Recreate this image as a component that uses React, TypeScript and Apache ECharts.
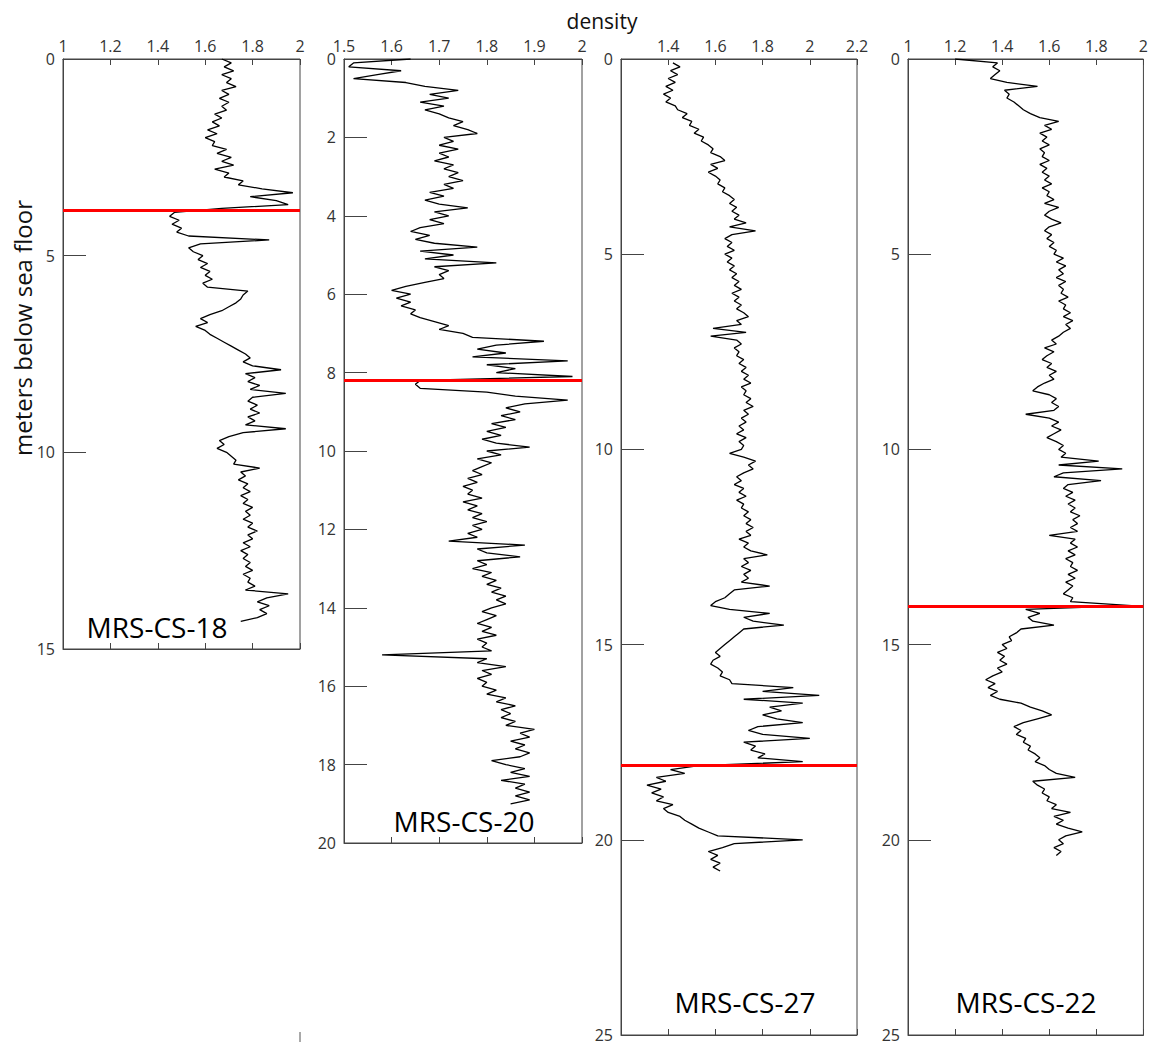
import React, { useEffect, useRef } from "react";
import * as echarts from "echarts";

// Sampling step of the digitised density logs (m)
const STEP = 0.1;

// Core names
const CORE_NAMES = ["MRS-CS-18", "MRS-CS-20", "MRS-CS-27", "MRS-CS-22"];

// Depth of the first sample of each core (m below sea floor)
const CORE_TOPS = [0.0, 0.0, 0.1, 0.0];

// Red boundary depths (m)
const RED_LINES = [3.84, 8.19, 18.08, 14.03];

// Density (g/cm3) every 0.1 m, MRS-CS-18 (0.0 - 14.3 m)
const cs18 = [
  1.67, 1.71, 1.68, 1.72, 1.67, 1.71, 1.69, 1.73, 1.67, 1.70,
  1.66, 1.70, 1.67, 1.69, 1.64, 1.67, 1.63, 1.66, 1.61, 1.65,
  1.60, 1.64, 1.63, 1.69, 1.65, 1.71, 1.67, 1.72, 1.64, 1.70,
  1.68, 1.76, 1.74, 1.84, 1.97, 1.79, 1.90, 1.95, 1.67, 1.47,
  1.45, 1.49, 1.46, 1.50, 1.48, 1.53, 1.87, 1.58, 1.53, 1.55,
  1.59, 1.57, 1.61, 1.58, 1.62, 1.60, 1.63, 1.59, 1.61, 1.78,
  1.76, 1.75, 1.73, 1.70, 1.67, 1.62, 1.58, 1.61, 1.56, 1.60,
  1.62, 1.65, 1.68, 1.71, 1.74, 1.77, 1.79, 1.76, 1.80, 1.92,
  1.77, 1.81, 1.78, 1.83, 1.79, 1.94, 1.80, 1.78, 1.82, 1.79,
  1.83, 1.78, 1.81, 1.77, 1.94, 1.76, 1.70, 1.66, 1.68, 1.65,
  1.69, 1.71, 1.73, 1.72, 1.83, 1.75, 1.77, 1.74, 1.78, 1.76,
  1.79, 1.75, 1.78, 1.76, 1.80, 1.77, 1.79, 1.76, 1.80, 1.78,
  1.82, 1.78, 1.80, 1.76, 1.79, 1.75, 1.78, 1.76, 1.79, 1.77,
  1.80, 1.76, 1.79, 1.78, 1.81, 1.77, 1.95, 1.86, 1.82, 1.87,
  1.83, 1.86, 1.82, 1.75,
];

// MRS-CS-20 (0.0 - 19.0 m)
const cs20 = [
  1.64, 1.52, 1.51, 1.62, 1.57, 1.52, 1.63, 1.67, 1.74, 1.68,
  1.72, 1.66, 1.71, 1.67, 1.70, 1.72, 1.75, 1.73, 1.76, 1.78,
  1.71, 1.73, 1.70, 1.74, 1.70, 1.72, 1.69, 1.73, 1.71, 1.74,
  1.72, 1.75, 1.71, 1.73, 1.68, 1.71, 1.67, 1.70, 1.76, 1.69,
  1.72, 1.68, 1.71, 1.66, 1.64, 1.68, 1.65, 1.69, 1.78, 1.66,
  1.73, 1.67, 1.82, 1.69, 1.72, 1.70, 1.71, 1.67, 1.63, 1.60,
  1.64, 1.61, 1.64, 1.62, 1.65, 1.64, 1.66, 1.69, 1.72, 1.70,
  1.75, 1.77, 1.92, 1.82, 1.78, 1.84, 1.77, 1.97, 1.80, 1.86,
  1.82, 1.98, 1.66, 1.65, 1.66, 1.80, 1.86, 1.97, 1.88, 1.84,
  1.87, 1.83, 1.86, 1.81, 1.84, 1.80, 1.83, 1.79, 1.82, 1.89,
  1.80, 1.83, 1.78, 1.81, 1.79, 1.77, 1.79, 1.76, 1.78, 1.75,
  1.77, 1.76, 1.79, 1.75, 1.78, 1.76, 1.79, 1.77, 1.80, 1.77,
  1.79, 1.76, 1.78, 1.72, 1.88, 1.78, 1.80, 1.87, 1.78, 1.80,
  1.77, 1.81, 1.79, 1.82, 1.80, 1.83, 1.81, 1.84, 1.82, 1.84,
  1.81, 1.79, 1.82, 1.80, 1.78, 1.81, 1.79, 1.82, 1.78, 1.80,
  1.79, 1.81, 1.58, 1.80, 1.78, 1.84, 1.79, 1.81, 1.78, 1.80,
  1.79, 1.82, 1.80, 1.84, 1.82, 1.86, 1.83, 1.85, 1.83, 1.86,
  1.84, 1.90, 1.87, 1.89, 1.85, 1.88, 1.86, 1.89, 1.87, 1.81,
  1.84, 1.88, 1.85, 1.89, 1.83, 1.88, 1.86, 1.89, 1.86, 1.89,
  1.85,
];

// MRS-CS-27 (0.1 - 20.8 m)
const cs27 = [
  1.42, 1.45, 1.41, 1.44, 1.40, 1.43, 1.39, 1.42, 1.38,
  1.41, 1.39, 1.43, 1.44, 1.48, 1.46, 1.50, 1.49, 1.53, 1.51,
  1.55, 1.54, 1.57, 1.59, 1.58, 1.62, 1.64, 1.58, 1.61, 1.57,
  1.60, 1.62, 1.61, 1.64, 1.63, 1.66, 1.68, 1.66, 1.69, 1.67,
  1.70, 1.68, 1.73, 1.66, 1.77, 1.67, 1.64, 1.67, 1.65, 1.68,
  1.64, 1.67, 1.65, 1.68, 1.66, 1.69, 1.67, 1.70, 1.68, 1.71,
  1.67, 1.70, 1.68, 1.71, 1.69, 1.72, 1.74, 1.69, 1.71, 1.59,
  1.73, 1.58, 1.69, 1.71, 1.68, 1.70, 1.69, 1.72, 1.70, 1.73,
  1.71, 1.74, 1.72, 1.75, 1.71, 1.73, 1.72, 1.75, 1.73, 1.76,
  1.72, 1.74, 1.71, 1.73, 1.70, 1.72, 1.69, 1.73, 1.70, 1.72,
  1.71, 1.66, 1.72, 1.77, 1.74, 1.76, 1.72, 1.69, 1.71, 1.68,
  1.72, 1.70, 1.73, 1.69, 1.72, 1.71, 1.74, 1.72, 1.75, 1.73,
  1.76, 1.73, 1.75, 1.70, 1.74, 1.72, 1.75, 1.82, 1.72, 1.74,
  1.71, 1.75, 1.72, 1.74, 1.71, 1.83, 1.68, 1.66, 1.64, 1.60,
  1.58, 1.66, 1.83, 1.72, 1.76, 1.89, 1.72, 1.70, 1.68, 1.66,
  1.64, 1.62, 1.60, 1.62, 1.59, 1.58, 1.61, 1.63, 1.62, 1.66,
  1.67, 1.93, 1.80, 2.04, 1.72, 1.97, 1.83, 1.88, 1.80, 1.86,
  1.97, 1.78, 1.74, 1.80, 2.00, 1.72, 1.77, 1.75, 1.81, 1.78,
  1.97, 1.53, 1.41, 1.47, 1.35, 1.39, 1.31, 1.37, 1.33, 1.38,
  1.35, 1.42, 1.38, 1.40, 1.45, 1.47, 1.50, 1.53, 1.57, 1.61,
  1.97, 1.68, 1.63, 1.57, 1.61, 1.58, 1.62, 1.59, 1.62,
];

// MRS-CS-22 (0.0 - 20.4 m)
const cs22 = [
  1.20, 1.38, 1.36, 1.39, 1.37, 1.35, 1.42, 1.55, 1.41, 1.43,
  1.42, 1.45, 1.47, 1.49, 1.52, 1.56, 1.64, 1.58, 1.61, 1.56,
  1.59, 1.57, 1.60, 1.56, 1.58, 1.57, 1.60, 1.56, 1.59, 1.57,
  1.60, 1.58, 1.61, 1.57, 1.60, 1.59, 1.62, 1.58, 1.64, 1.60,
  1.58, 1.61, 1.65, 1.60, 1.58, 1.61, 1.59, 1.62, 1.60, 1.63,
  1.62, 1.66, 1.63, 1.67, 1.64, 1.66, 1.63, 1.67, 1.64, 1.66,
  1.65, 1.68, 1.64, 1.67, 1.66, 1.69, 1.66, 1.70, 1.67, 1.69,
  1.66, 1.64, 1.61, 1.63, 1.58, 1.62, 1.59, 1.57, 1.61, 1.59,
  1.63, 1.60, 1.62, 1.58, 1.55, 1.53, 1.60, 1.63, 1.61, 1.64,
  1.62, 1.50, 1.60, 1.64, 1.61, 1.65, 1.62, 1.59, 1.63, 1.66,
  1.64, 1.67, 1.65, 1.81, 1.64, 1.91, 1.66, 1.62, 1.82, 1.68,
  1.66, 1.70, 1.67, 1.71, 1.68, 1.71, 1.69, 1.73, 1.70, 1.72,
  1.69, 1.72, 1.60, 1.71, 1.69, 1.72, 1.68, 1.71, 1.67, 1.70,
  1.69, 1.72, 1.68, 1.71, 1.67, 1.70, 1.68, 1.66, 1.70, 1.69,
  1.95, 1.50, 1.56, 1.51, 1.53, 1.62, 1.48, 1.46, 1.43, 1.44,
  1.40, 1.42, 1.38, 1.41, 1.39, 1.42, 1.38, 1.40, 1.36, 1.33,
  1.37, 1.34, 1.38, 1.35, 1.39, 1.48, 1.52, 1.57, 1.61, 1.55,
  1.49, 1.45, 1.48, 1.46, 1.50, 1.49, 1.52, 1.51, 1.54, 1.56,
  1.54, 1.58, 1.60, 1.63, 1.71, 1.53, 1.55, 1.58, 1.57, 1.60,
  1.59, 1.63, 1.61, 1.69, 1.62, 1.66, 1.63, 1.68, 1.74, 1.67,
  1.64, 1.66, 1.62, 1.65, 1.63,
];

const CORE_DENSITY = [cs18, cs20, cs27, cs22];

// Axis ranges
const X_MIN = [1, 1.5, 1.2, 1];
const X_MAX = [2, 2, 2.2, 2];
const X_INTERVAL = [0.2, 0.1, 0.2, 0.2];
const Y_MAX = [15, 20, 25, 25];
const Y_INTERVAL = [5, 2, 5, 5];

const FONT = "'Open Sans', 'Noto Sans', sans-serif";
const AXIS_COLOR = "#444";
const LABEL_COLOR = "#333";

export default function App() {
  const ref = useRef<HTMLDivElement>(null);

  useEffect(() => {
    document.body.style.margin = "0";
    const chart = echarts.init(ref.current!, null, { renderer: "svg" });

    const grids = [
      { left: 63, top: 59, width: 237, height: 590 },
      { left: 344, top: 59, width: 238, height: 784 },
      { left: 621, top: 59, width: 236, height: 978 },
      { left: 908, top: 59, width: 236, height: 978 },
    ].map((g) => ({ ...g, show: true, borderColor: AXIS_COLOR, borderWidth: 1, backgroundColor: "transparent" }));

    const xAxes: any[] = [];
    for (let pass = 0; pass < 2; pass++) {
      for (let i = 0; i < 4; i++) {
        const isTop = pass === 0;
        xAxes.push({
          gridIndex: i,
          type: "value",
          position: isTop ? "top" : "bottom",
          min: X_MIN[i],
          max: X_MAX[i],
          interval: X_INTERVAL[i],
          axisLine: { show: true, onZero: false, lineStyle: { color: AXIS_COLOR, width: 1 } },
          axisTick: { show: true, inside: true, length: 6, lineStyle: { color: AXIS_COLOR } },
          splitLine: { show: false },
          axisLabel: {
            show: isTop,
            fontSize: 16,
            fontFamily: FONT,
            color: LABEL_COLOR,
            margin: 5,
            showMinLabel: i !== 2,
            showMaxLabel: true,
            formatter: (v: number) => (i === 2 && Math.abs(v - 1.2) < 1e-6 ? "" : String(+v.toFixed(2))),
          },
        });
      }
    }

    const yAxes = [0, 1, 2, 3].map((i) => ({
      gridIndex: i,
      type: "value",
      inverse: true,
      min: 0,
      max: Y_MAX[i],
      interval: Y_INTERVAL[i],
      axisLine: { show: true, onZero: false, lineStyle: { color: AXIS_COLOR, width: 1 } },
      axisTick: { show: true, inside: true, length: 23, lineStyle: { color: AXIS_COLOR } },
      splitLine: { show: false },
      axisLabel: {
        fontSize: 16,
        fontFamily: FONT,
        color: LABEL_COLOR,
        margin: 8,
        showMinLabel: true,
        showMaxLabel: true,
      },
    }));

    const series = CORE_DENSITY.map((vals, i) => ({
      type: "line",
      name: CORE_NAMES[i],
      xAxisIndex: i,
      yAxisIndex: i,
      data: vals.map((v, k) => [v, CORE_TOPS[i] + k * STEP]),
      showSymbol: false,
      symbol: "none",
      lineStyle: { color: "#000", width: 1.3 },
      clip: true,
      z: 2,
      markLine: {
        silent: true,
        symbol: "none",
        label: { show: false },
        lineStyle: { color: "#ff0000", width: 3, type: "solid" },
        data: [{ yAxis: RED_LINES[i] }],
        z: 5,
      },
    }));

    const nameCenters = [
      [157, 627],
      [464, 821],
      [745, 1002],
      [1026, 1002],
    ];

    const graphic: any[] = [
      {
        type: "text",
        x: 602,
        y: 21,
        style: { text: "density", font: `21px ${FONT}`, fill: "#111", textAlign: "center", textVerticalAlign: "middle" },
      },
      {
        type: "text",
        x: 22,
        y: 328,
        rotation: Math.PI / 2,
        style: {
          text: "meters below sea floor",
          font: `24px ${FONT}`,
          fill: "#111",
          textAlign: "center",
          textVerticalAlign: "middle",
        },
      },
      {
        type: "line",
        shape: { x1: 300, y1: 1032, x2: 300, y2: 1042 },
        style: { stroke: "#555", lineWidth: 1 },
      },
      ...CORE_NAMES.map((n, i) => ({
        type: "text",
        x: nameCenters[i][0],
        y: nameCenters[i][1],
        z: 10,
        style: { text: n, font: `28px ${FONT}`, fill: "#000", textAlign: "center", textVerticalAlign: "middle" },
      })),
    ];

    chart.setOption({
      animation: false,
      backgroundColor: "#fff",
      grid: grids,
      xAxis: xAxes,
      yAxis: yAxes,
      series,
      graphic,
    });

    return () => chart.dispose();
  }, []);

  return <div ref={ref} style={{ width: 1151, height: 1043 }} />;
}
